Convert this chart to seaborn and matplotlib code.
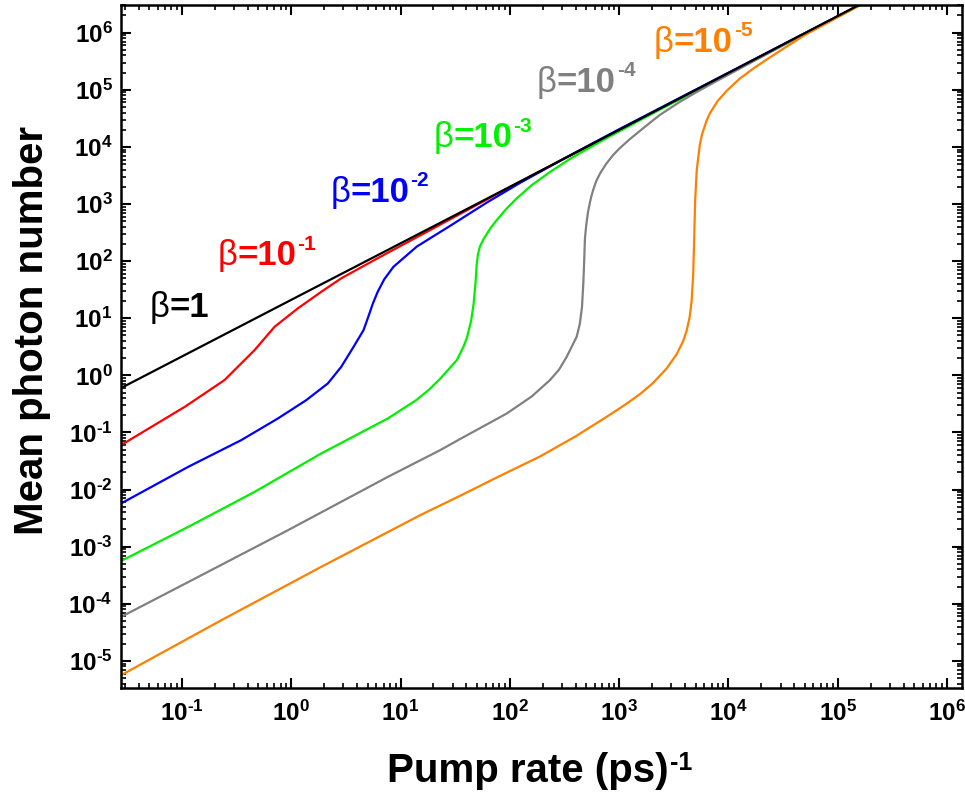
import numpy as np
import pandas as pd
import matplotlib
matplotlib.use("Agg")
import matplotlib.pyplot as plt
from matplotlib.ticker import LogLocator, FixedLocator, FuncFormatter, NullFormatter
import seaborn as sns

# ---- data (pump rate in ps^-1, mean photon number) ----
black_x = [0.0277, 1.0, 100, 1e4, 2e5]
black_y = [0.6, 21, 2.0e3, 1.97e5, 3.9e6]

red_x = [0.0277, 0.106, 0.245, 0.462, 0.703, 1.15, 1.88, 2.86, 6.31, 15.8, 100, 2e5]
red_y = [0.06, 0.281, 0.826, 2.77, 7.08, 14.9, 29.0, 49.9, 115, 295, 1.98e3, 3.86e6]

blue_x = [0.0277, 0.114, 0.349, 0.755, 1.371, 2.163, 2.864, 3.715, 4.581, 5.012,
          5.559, 6.166, 7.079, 8.610, 14.09, 19.95, 28.38, 41.69, 61.52, 123.9,
          316.2, 1000, 2e5]
blue_y = [0.00571, 0.025, 0.0735, 0.176, 0.368, 0.723, 1.41, 3.16, 6.19, 10.0,
          17.78, 28.84, 47.86, 79.6, 179.9, 272.3, 414, 660.7, 1059, 2344,
          6310, 2.04e4, 3.86e6]

green_x = [0.0277, 0.114, 0.462, 1.88, 7.656, 13.9, 18.2, 23.01, 32.73, 37.58, 40.36,
           44.16, 46.56, 48.42, 49.77, 51.05, 53.09, 57.28, 66.07, 75.86, 93.33, 115.6,
           158.5, 232.8, 354.8, 540.8, 794.3, 1172, 1905, 3162, 31620, 2e5]
green_y = [5.62e-4, 2.22e-3, 9.12e-3, 0.0429, 0.176, 0.368, 0.562, 0.871, 1.849, 3.162, 4.467,
           8.913, 17.78, 39.81, 89.13, 131.8, 177.8, 239.9, 371.5, 523.6, 831.8, 1256,
           2138, 3631, 6166, 9772, 14790, 21880, 36310, 60260, 6.03e5, 3.8e6]

gray_x = [0.0277, 0.114, 0.933, 7.656, 23.01, 35.81, 93.76, 158.5, 232.8, 281.8, 331.1,
          408.3, 436.5, 457.1, 469.9, 478.6, 486.4, 501.2, 518.8, 540.8, 555.9, 579.4,
          616.6, 666.8, 758.6, 883.1, 1016, 1259, 1549, 1905, 2360, 3597, 5012, 7244,
          15850, 31620, 2e5]
gray_y = [5.9e-5, 2.4e-4, 1.945e-3, 0.0167, 0.049, 0.0785, 0.215, 0.427, 0.826, 1.259, 2.113,
          4.732, 7.943, 15.85, 40.74, 100, 251.2, 446.7, 724.4, 1072, 1349, 1778,
          2512, 3388, 5012, 7244, 9550, 13800, 19050, 26300, 36310, 61660, 89130, 131800,
          295100, 602600, 3.8e6]

orange_x = [0.0277, 0.229, 1.88, 15.42, 35.81, 79.43, 188.8, 398.1, 769.1, 1122, 1549,
            2051, 2716, 3357, 3855, 4140, 4416, 4603, 4753, 4853, 4955, 5129, 5483,
            5754, 6310, 6761, 7943, 9616, 12590, 16830, 22390, 29510, 50120, 1e5, 2e5]
orange_y = [5.62e-6, 5.16e-5, 4.44e-4, 3.63e-3, 7.94e-3, 0.017, 0.038, 0.0851, 0.188, 0.302,
            0.468, 0.741, 1.318, 2.344, 3.981, 6.026, 10.47, 19.95, 56.23, 223.9, 1122,
            3981, 11220, 16980, 28840, 38730, 63100, 95500, 154900, 234400, 338800,
            478600, 912000, 1.862e6, 3.855e6]

labels = ["β=1", "β=10-1", "β=10-2", "β=10-3", "β=10-4", "β=10-5"]
label_base = ["=1", "=10", "=10", "=10", "=10", "=10"]
label_exp = ["", "-1", "-2", "-3", "-4", "-5"]
label_x = [0.0504, 0.211, 2.27, 19.9, 176, 2080]
label_y = [10.4, 85.3, 1097, 9840, 92700, 464500]

x_ticks = [1e-1, 1e0, 1e1, 1e2, 1e3, 1e4, 1e5, 1e6]
y_ticks = [1e-5, 1e-4, 1e-3, 1e-2, 1e-1, 1e0, 1e1, 1e2, 1e3, 1e4, 1e5, 1e6]

colors = ["#000000", "#ff0000", "#0000ff", "#00f000", "#808080", "#ff8000"]

series = [(black_x, black_y), (red_x, red_y), (blue_x, blue_y),
          (green_x, green_y), (gray_x, gray_y), (orange_x, orange_y)]

frames = []
for lab, (xs, ys) in zip(labels, series):
    frames.append(pd.DataFrame({"pump": xs, "n": ys, "beta": lab}))
df = pd.concat(frames, ignore_index=True)

# ---- style ----
sns.set_style("ticks")
plt.rcParams["font.family"] = ["Liberation Sans", "DejaVu Sans"]
plt.rcParams["font.weight"] = "bold"
plt.rcParams["mathtext.fontset"] = "custom"
plt.rcParams["mathtext.rm"] = "Liberation Sans"
plt.rcParams["mathtext.bf"] = "Liberation Sans:bold"
plt.rcParams["mathtext.it"] = "Liberation Sans:italic"
for k in ["text.color", "axes.labelcolor", "xtick.color", "ytick.color", "axes.edgecolor"]:
    plt.rcParams[k] = "black"

fig = plt.figure(figsize=(9.65, 8.06), dpi=100)
ax = fig.add_axes([0.1254, 0.146, 0.8715, 0.8482])

draw_order = [1, 2, 3, 4, 5, 0]
for i in draw_order:
    sub = df[df["beta"] == labels[i]]
    sns.lineplot(data=sub, x="pump", y="n", color=colors[i], lw=1.6,
                 estimator=None, sort=True, ax=ax, legend=False)

ax.set_xscale("log")
ax.set_yscale("log")
ax.set_xlim(10 ** -1.558, 10 ** 6.137)
ax.set_ylim(10 ** -5.48, 10 ** 6.49)

for s in ax.spines.values():
    s.set_linewidth(1.8)
    s.set_visible(True)

ax.xaxis.set_major_locator(FixedLocator(x_ticks))
ax.yaxis.set_major_locator(FixedLocator(y_ticks))
ax.xaxis.set_minor_locator(LogLocator(base=10, subs=np.arange(2, 10), numticks=30))
ax.yaxis.set_minor_locator(LogLocator(base=10, subs=np.arange(2, 10), numticks=30))


def dec_fmt(v, p):
    e = int(round(np.log10(v)))
    es = str(e).replace("-", "\u2010")
    return r"$\mathbf{10^{%s}}$" % es


fmt = FuncFormatter(dec_fmt)
ax.xaxis.set_major_formatter(fmt)
ax.yaxis.set_major_formatter(fmt)
ax.xaxis.set_minor_formatter(NullFormatter())
ax.yaxis.set_minor_formatter(NullFormatter())

ax.tick_params(which="major", direction="in", length=7, width=1.5,
               top=True, right=True, labelsize=17.5)
ax.tick_params(which="minor", direction="in", length=3.6, width=1.2,
               top=True, right=True)
ax.tick_params(axis="x", which="major", pad=9)
ax.tick_params(axis="y", which="major", pad=6)

ax.set_xlabel("Pump rate (ps)", fontsize=29, fontweight="bold")
ax.xaxis.set_label_coords(0.484, -0.093)
ax.annotate("-1", xy=(1.0, 1.0), xycoords=ax.xaxis.label, xytext=(1, 1),
            textcoords="offset points", fontsize=18, fontweight="bold",
            ha="left", va="top", color="black")

ax.set_ylabel("Mean photon number", fontsize=29, fontweight="bold")
ax.yaxis.set_label_coords(-0.083, 0.524)

for base, ex, tx, ty, c in zip(label_base, label_exp, label_x, label_y, colors):
    t1 = ax.text(tx, ty, "β", color=c, fontsize=25, fontweight="normal",
                 ha="left", va="baseline")
    t2 = ax.annotate(base, xy=(1.0, ty), xycoords=(t1, "data"), color=c,
                     fontsize=25, fontweight="bold", ha="left", va="baseline")
    if ex:
        ax.annotate(ex, xy=(1.0, ty), xycoords=(t2, "data"), xytext=(1, 11),
                    textcoords="offset points", color=c, fontsize=15,
                    fontweight="bold", ha="left", va="baseline")

fig.savefig("out.png", dpi=100)
